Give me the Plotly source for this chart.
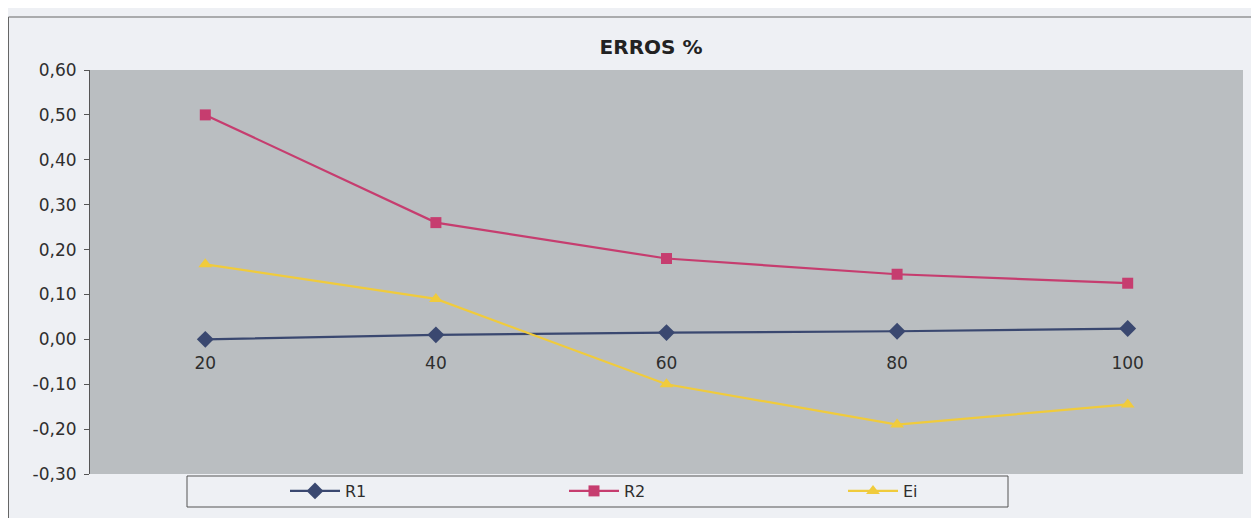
import plotly.graph_objects as go

categories = ["20", "40", "60", "80", "100"]
r1 = [0.00, 0.01, 0.015, 0.018, 0.024]
r2 = [0.50, 0.26, 0.18, 0.145, 0.125]
ei = [0.167, 0.09, -0.10, -0.19, -0.145]
y_ticks = [-0.3, -0.2, -0.1, 0.0, 0.1, 0.2, 0.3, 0.4, 0.5, 0.6]
y_tick_labels = ["-0,30", "-0,20", "-0,10", "0,00", "0,10", "0,20", "0,30", "0,40", "0,50", "0,60"]

# page body has an 8px margin; figure coords = screen coords - 8
OFF = 8
W, H = 1259 - OFF, 518 - OFF
L, T = 90 - OFF, 70 - OFF
R = W - (1243 - OFF)
B = H - (474 - OFF)
pw, ph = W - L - R, H - T - B


def px(x):
    return (x - OFF - L) / pw


def py(y):
    return (H - B - (y - OFF)) / ph


FONT = "DejaVu Sans, Arial, sans-serif"

fig = go.Figure()
fig.add_trace(go.Scatter(x=categories, y=r1, name="R1", mode="lines+markers",
                         line=dict(color="#3a4870", width=2.2),
                         marker=dict(symbol="diamond", size=13, color="#3a4870")))
fig.add_trace(go.Scatter(x=categories, y=r2, name="R2", mode="lines+markers",
                         line=dict(color="#c63d6f", width=2.2),
                         marker=dict(symbol="square", size=11, color="#c63d6f")))
fig.add_trace(go.Scatter(x=categories, y=ei, name="Ei", mode="lines+markers",
                         line=dict(color="#f0cb3c", width=2.2),
                         marker=dict(symbol="triangle-up", size=12, color="#f0cb3c")))

ymin, ymax = -0.3, 0.6
zero_pos = (0 - ymin) / (ymax - ymin)

fig.update_layout(
    width=W, height=H,
    margin=dict(l=L, r=R, t=T, b=B, autoexpand=False),
    paper_bgcolor="#eef0f4",
    plot_bgcolor="#babec1",
    font=dict(family=FONT, size=16, color="#2e2e2e"),
    title=dict(text="<b>ERROS %</b>", x=px(651), xref="paper", xanchor="center",
               y=1 - (47 - OFF) / H, yref="container", yanchor="middle",
               font=dict(family=FONT, size=20, color="#222222")),
    xaxis=dict(type="category", range=[-0.5, 4.5], anchor="free", position=zero_pos,
               showgrid=False, showline=False, zeroline=False, ticks="",
               ticklabelstandoff=12,
               tickfont=dict(family=FONT, size=17, color="#2e2e2e")),
    yaxis=dict(range=[ymin, ymax], tickvals=y_ticks, ticktext=y_tick_labels,
               showgrid=False, zeroline=False, showline=True, linecolor="#555555",
               linewidth=1, ticks="outside", ticklen=5, tickcolor="#555555",
               ticklabelstandoff=4,
               tickfont=dict(family=FONT, size=17, color="#2e2e2e")),
    legend=dict(orientation="h", x=px(285), xanchor="left", y=py(491), yanchor="middle",
                entrywidth=214, entrywidthmode="pixels", bgcolor="rgba(0,0,0,0)",
                font=dict(family=FONT, size=16, color="#2e2e2e"), itemwidth=50),
    showlegend=True,
    shapes=[
        dict(type="rect", xref="paper", yref="paper", x0=px(187), x1=px(1008),
             y0=py(507), y1=py(476), line=dict(color="#555555", width=1), layer="below"),
        dict(type="rect", xref="paper", yref="paper", x0=px(8.5), x1=px(1300),
             y0=py(540), y1=py(17), line=dict(color="#666666", width=1), layer="below"),
    ],
)

fig.write_html("out.html")
